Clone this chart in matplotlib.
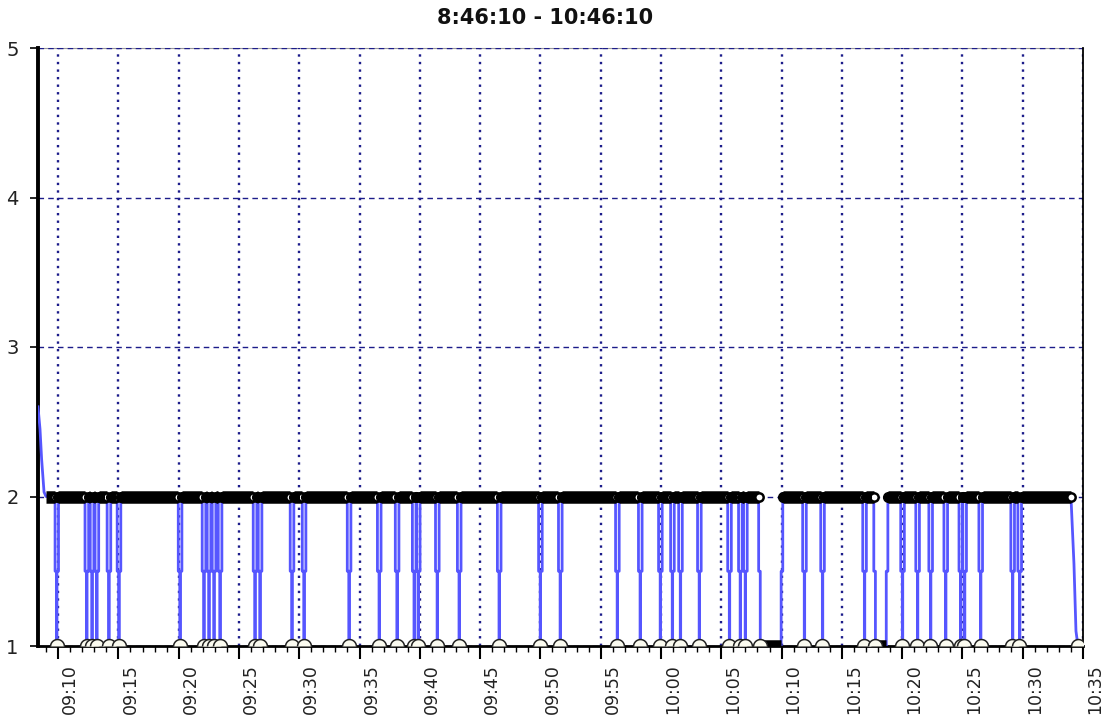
import numpy as np
import pandas as pd
import matplotlib
matplotlib.use('Agg')
import matplotlib.pyplot as plt
import matplotlib.dates as mdates
import matplotlib.transforms as mtrans
from matplotlib.path import Path

# readings (times)
day = '2000-01-01 '
head_times = ['09:08:20', '09:08:30', '09:08:38', '09:08:50', '09:09:00']
head_vals = [2.6, 2.45, 2.25, 2.03, 2.0]

# each drop: value leaves 2 at drop_down and comes back to 2 at drop_up
drop_down = ['09:09:45', '09:12:14', '09:12:40', '09:13:04', '09:14:04', '09:14:54',
             '09:19:58', '09:21:57', '09:22:22', '09:22:47', '09:23:17', '09:26:11',
             '09:26:36', '09:29:15', '09:30:15', '09:33:59', '09:36:29', '09:37:58',
             '09:39:23', '09:39:43', '09:41:18', '09:43:07', '09:46:26', '09:49:51',
             '09:51:30', '09:56:14', '09:58:08', '09:59:48', '10:00:48', '10:01:28',
             '10:03:02', '10:05:32', '10:06:26', '10:06:51', '10:08:06', '10:11:45',
             '10:13:15', '10:16:44', '10:17:39', '10:19:53', '10:21:08', '10:22:13',
             '10:23:28', '10:24:43', '10:25:02', '10:26:22', '10:29:01', '10:29:36']
drop_up = ['09:10:02', '09:12:32', '09:12:58', '09:13:22', '09:14:22', '09:15:12',
           '09:20:16', '09:22:15', '09:22:40', '09:23:05', '09:23:35', '09:26:29',
           '09:26:54', '09:29:33', '09:30:33', '09:34:17', '09:36:47', '09:38:16',
           '09:39:41', '09:40:01', '09:41:36', '09:43:25', '09:46:44', '09:50:09',
           '09:51:48', '09:56:32', '09:58:26', '10:00:06', '10:01:06', '10:01:46',
           '10:03:20', '10:05:50', '10:06:44', '10:07:09', '10:10:06', '10:12:03',
           '10:13:33', '10:17:02', '10:18:49', '10:20:11', '10:21:26', '10:22:31',
           '10:23:46', '10:25:01', '10:25:20', '10:26:40', '10:29:19', '10:29:54']

tail_times = ['10:34:00', '10:34:15', '10:34:25', '10:34:35', '10:35:00']
tail_vals = [2.0, 1.55, 1.1, 1.0, 1.0]

title = '8:46:10 - 10:46:10'
y_ticks = [1, 2, 3, 4, 5]

# build the series
T = lambda s: pd.Timestamp(day + s)
xs = [T(s) for s in head_times]
ys = list(head_vals)
for d, u in zip(drop_down, drop_up):
    d, u = T(d), T(u)
    step = min(pd.Timedelta(seconds=8), (u - d) / 2)
    a, b = d + step, u - step
    xs += [d, d, a, a, b, b, u, u]
    ys += [2, 1.5, 1.5, 1, 1, 1.5, 1.5, 2]
xs += [T(s) for s in tail_times]
ys += tail_vals
xs = np.array(xs, dtype='datetime64[ns]')
ys = np.array(ys, dtype=float)

fig = plt.figure(figsize=(11.1, 7.17), dpi=100)
ax = fig.add_axes([38 / 1110, 1 - 646 / 717, (1083 - 38) / 1110, (646 - 48) / 717])

grid_col = '#1c1c8a'
ax.xaxis.grid(True, which='major', linestyle=(0, (1, 2.2)), color=grid_col, linewidth=1.7)
ax.yaxis.grid(True, which='major', linestyle=(0, (4, 3)), color=grid_col, linewidth=1.0)
ax.set_axisbelow(True)

ax.plot(xs, ys, color='#5656ff', linewidth=2.0, zorder=3)

top = np.where(ys == 2, ys, np.nan)
ax.plot(xs, top, color='black', linewidth=9, solid_capstyle='butt', zorder=4)
low = np.where(ys == 1, ys, np.nan)
ax.plot(xs, low, color='black', linewidth=9, solid_capstyle='butt', zorder=4)

theta = np.linspace(0, np.pi, 25)
half = Path(np.column_stack([np.cos(theta), np.sin(theta)]))
lows = (ys == 1) & (np.roll(ys, 1) != 1)
ax.plot(xs[lows], ys[lows], linestyle='none', marker=half, ms=10, mfc='#fbfbf0',
        mec='#222222', mew=1.1, zorder=5)

downs = np.array([T(s) for s in drop_down + tail_times[:1]], dtype='datetime64[ns]')
ups = np.array([T(s) for s in drop_up], dtype='datetime64[ns]')
ax.plot(downs, np.full(len(downs), 2.0), 'o', ms=6, mfc='white', mec='black', mew=1.8, zorder=5)
ax.plot(ups, np.full(len(ups), 2.0), 'o', ms=7, mfc='black', mec='black', zorder=6)

ax.set_xlim(T('09:08:20'), T('10:35:00'))
ax.set_ylim(1, 5)
ax.set_yticks(y_ticks)
ax.set_yticklabels([str(v) for v in y_ticks], fontsize=14, color='#222222')

ax.xaxis.set_major_locator(mdates.MinuteLocator(byminute=range(0, 60, 5)))
ax.xaxis.set_minor_locator(mdates.MinuteLocator())
ax.xaxis.set_major_formatter(mdates.DateFormatter('%H:%M'))
ax.tick_params(axis='x', which='major', length=9, width=1.5, direction='out', pad=4)
ax.tick_params(axis='x', which='minor', length=4, width=1, direction='out')
ax.tick_params(axis='y', which='major', length=6, width=1.2, direction='out', pad=8)
offset = mtrans.ScaledTranslation(3 / 100, 0, fig.dpi_scale_trans)
for lab in ax.get_xticklabels():
    lab.set_rotation(90)
    lab.set_fontsize(12.5)
    lab.set_color('#222222')
    lab.set_horizontalalignment('left')
    lab.set_transform(lab.get_transform() + offset)

for side, lw in [('left', 2.8), ('bottom', 2.0), ('right', 1.3)]:
    ax.spines[side].set_linewidth(lw)
    ax.spines[side].set_color('black')
ax.spines['top'].set_linewidth(0.8)
ax.spines['top'].set_color('#999999')
ax.spines['top'].set_zorder(0.1)

fig.text(545 / 1110, 1 - 18 / 717, title, ha='center', va='center',
         fontsize=15, fontweight='bold', color='#111111')

fig.savefig('out.png', dpi=100)
